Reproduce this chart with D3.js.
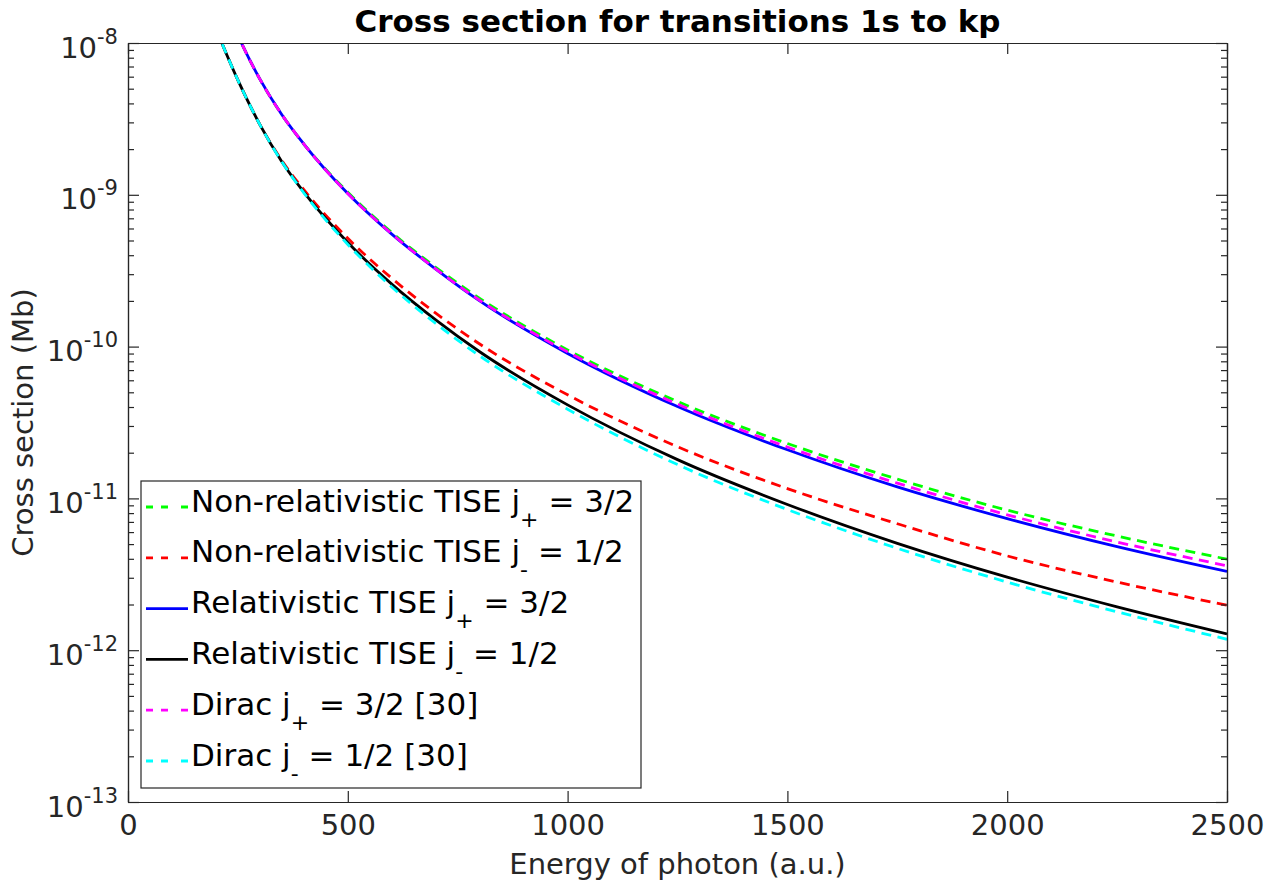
<!DOCTYPE html>
<html>
<head>
<meta charset="utf-8">
<script src="https://cdn.jsdelivr.net/npm/d3@7"></script>
<style>
  body { margin: 0; background: #fff; }
  text { font-family: "DejaVu Sans", sans-serif; fill: #262626; white-space: pre; }
</style>
</head>
<body>
<div id="chart"></div>
<script>
// photon energy (a.u.) where the curves were read
const energy = [200, 250, 300, 350, 400, 500, 600, 700, 800, 1000, 1250, 1500, 1750, 2000, 2250, 2500];

// cross sections (Mb)
const nonRelPlus = [2.44e-8, 1.12e-8, 5.78e-9, 3.37e-9, 2.16e-9, 1.04e-9, 5.64e-10, 3.33e-10, 2.08e-10, 9.51e-11, 4.35e-11, 2.30e-11, 1.34e-11, 8.37e-12, 5.65e-12, 3.98e-12];
const nonRelMinus = [1.24e-8, 5.69e-9, 2.90e-9, 1.68e-9, 1.08e-9, 5.17e-10, 2.82e-10, 1.66e-10, 1.04e-10, 4.81e-11, 2.19e-11, 1.16e-11, 6.81e-12, 4.18e-12, 2.81e-12, 1.98e-12];
const relPlus = [2.44e-8, 1.12e-8, 5.78e-9, 3.37e-9, 2.16e-9, 1.02e-9, 5.51e-10, 3.24e-10, 2.00e-10, 9.02e-11, 4.03e-11, 2.09e-11, 1.19e-11, 7.36e-12, 4.81e-12, 3.30e-12];
const relMinus = [1.24e-8, 5.69e-9, 2.90e-9, 1.65e-9, 1.04e-9, 4.85e-10, 2.58e-10, 1.50e-10, 9.25e-11, 4.13e-11, 1.80e-11, 9.12e-12, 5.06e-12, 3.03e-12, 1.93e-12, 1.28e-12];
const diracPlus = [2.44e-8, 1.12e-8, 5.78e-9, 3.37e-9, 2.16e-9, 1.02e-9, 5.53e-10, 3.25e-10, 2.02e-10, 9.23e-11, 4.18e-11, 2.18e-11, 1.26e-11, 7.80e-12, 5.16e-12, 3.60e-12];
const diracMinus = [1.24e-8, 5.69e-9, 2.90e-9, 1.65e-9, 1.03e-9, 4.71e-10, 2.47e-10, 1.42e-10, 8.69e-11, 3.87e-11, 1.67e-11, 8.45e-12, 4.69e-12, 2.81e-12, 1.79e-12, 1.18e-12];

// legend text, split round the subscript
const legendPre = ["Non-relativistic TISE j", "Non-relativistic TISE j", "Relativistic TISE j", "Relativistic TISE j", "Dirac j", "Dirac j"];
const legendSub = ["+", "-", "+", "-", "+", "-"];
const legendPost = [" = 3/2", " = 1/2", " = 3/2", " = 1/2", " = 3/2 [30]", " = 1/2 [30]"];

const xTicks = [0, 500, 1000, 1500, 2000, 2500];
const yExponents = [-13, -12, -11, -10, -9, -8];

const seriesValues = [nonRelPlus, nonRelMinus, relPlus, relMinus, diracPlus, diracMinus];
const seriesColors = ["#00ff00", "#ff0000", "#0000ff", "#000000", "#ff00ff", "#00ffff"];
const seriesDashed = [true, true, false, false, true, true];

const width = 1286, height = 887;
const margin = {left: 128, top: 43, right: 59, bottom: 85};
const axisColor = "#262626";

const svg = d3.select("#chart").append("svg")
    .attr("width", width)
    .attr("height", height);

const x = d3.scaleLinear().domain([0, 2500]).range([margin.left, width - margin.right]);
const y = d3.scaleLog().domain([1e-13, 1e-8]).range([height - margin.bottom, margin.top]);

const plotW = x.range()[1] - x.range()[0];
const plotH = y.range()[0] - y.range()[1];

svg.append("defs").append("clipPath").attr("id", "plotClip")
    .append("rect")
    .attr("x", margin.left).attr("y", margin.top)
    .attr("width", plotW).attr("height", plotH);

// curves
const line = d3.line()
    .x((d, i) => x(energy[i]))
    .y(d => y(d))
    .curve(d3.curveMonotoneX);

const curves = svg.append("g").attr("clip-path", "url(#plotClip)");
seriesValues.forEach(function(vals, k) {
    curves.append("path")
        .datum(vals)
        .attr("d", line)
        .attr("fill", "none")
        .attr("stroke", seriesColors[k])
        .attr("stroke-width", 2.8)
        .attr("stroke-dasharray", seriesDashed[k] ? "10,6.5" : null);
});

// axes, ticks point inwards
const majorY = yExponents.map(e => Math.pow(10, e));
const minorY = y.ticks().filter(v => majorY.every(m => Math.abs(v - m) / m > 1e-6));

function styleAxis(g) {
    g.selectAll("path, line").attr("stroke", axisColor).attr("stroke-width", 1.2);
    g.attr("font-size", null).attr("font-family", null);
}

svg.append("g")
    .attr("transform", "translate(0," + y.range()[0] + ")")
    .call(d3.axisBottom(x).tickValues(xTicks).tickSize(-11).tickSizeOuter(0).tickPadding(12).tickFormat(d3.format("d")))
    .call(styleAxis)
    .selectAll("text").attr("font-size", 29).attr("dy", "0.71em").attr("fill", axisColor);

svg.append("g")
    .attr("transform", "translate(0," + margin.top + ")")
    .call(d3.axisTop(x).tickValues(xTicks).tickSize(-11).tickSizeOuter(0).tickFormat(""))
    .call(styleAxis);

const leftAxis = svg.append("g")
    .attr("transform", "translate(" + margin.left + ",0)")
    .call(d3.axisLeft(y).tickValues(majorY).tickSize(-11).tickSizeOuter(0).tickFormat(""))
    .call(styleAxis);

svg.append("g")
    .attr("transform", "translate(" + margin.left + ",0)")
    .call(d3.axisLeft(y).tickValues(minorY).tickSize(-6).tickSizeOuter(0).tickFormat(""))
    .call(styleAxis);

svg.append("g")
    .attr("transform", "translate(" + (width - margin.right) + ",0)")
    .call(d3.axisRight(y).tickValues(majorY).tickSize(-11).tickSizeOuter(0).tickFormat(""))
    .call(styleAxis);

svg.append("g")
    .attr("transform", "translate(" + (width - margin.right) + ",0)")
    .call(d3.axisRight(y).tickValues(minorY).tickSize(-6).tickSizeOuter(0).tickFormat(""))
    .call(styleAxis);

// y labels as 10 with a raised exponent
leftAxis.selectAll(".tick").each(function(d) {
    const t = d3.select(this).append("text")
        .attr("x", -10)
        .attr("y", 14)
        .attr("text-anchor", "end")
        .attr("font-size", 29);
    t.append("tspan").text("10");
    t.append("tspan").attr("dy", -14).attr("font-size", 21).text(String(Math.round(Math.log10(d))));
});

// titles
svg.append("text")
    .attr("x", (x.range()[0] + x.range()[1]) / 2)
    .attr("y", 31.5)
    .attr("text-anchor", "middle")
    .attr("font-size", 31)
    .attr("font-weight", "bold")
    .style("fill", "#000")
    .text("Cross section for transitions 1s to kp");

svg.append("text")
    .attr("x", (x.range()[0] + x.range()[1]) / 2)
    .attr("y", 874)
    .attr("text-anchor", "middle")
    .attr("font-size", 29)
    .text("Energy of photon (a.u.)");

svg.append("text")
    .attr("transform", "translate(33," + (y.range()[0] + y.range()[1]) / 2 + ") rotate(-90)")
    .attr("text-anchor", "middle")
    .attr("font-size", 29)
    .text("Cross section (Mb)");

// legend
const legend = svg.append("g").attr("transform", "translate(141,481)");
legend.append("rect")
    .attr("width", 500).attr("height", 307)
    .attr("fill", "#fff")
    .attr("stroke", axisColor)
    .attr("stroke-width", 1.2);

const rowY = d3.scaleLinear().domain([0, 5]).range([26, 280]);

seriesColors.forEach(function(c, k) {
    const cy = rowY(k);
    legend.append("line")
        .attr("x1", 5).attr("x2", 47)
        .attr("y1", cy).attr("y2", cy)
        .attr("stroke", c)
        .attr("stroke-width", 2.8)
        .attr("stroke-dasharray", seriesDashed[k] ? "7,8,7,13,7" : null);
    const t = legend.append("text")
        .attr("x", 50)
        .attr("y", cy + 4.5)
        .attr("font-size", 31)
        .style("fill", "#000");
    t.append("tspan").text(legendPre[k]);
    t.append("tspan").attr("dy", 15).attr("font-size", 22).text(legendSub[k]);
    t.append("tspan").attr("dy", -15).text(legendPost[k]);
});
</script>
</body>
</html>
